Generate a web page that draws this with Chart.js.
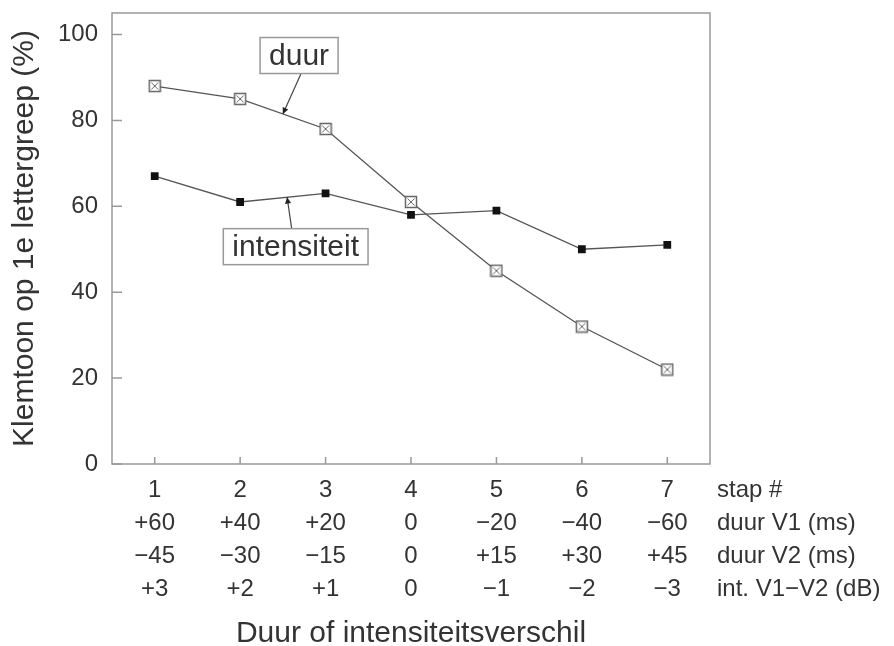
<!DOCTYPE html>
<html>
<head>
<meta charset="utf-8">
<script src="https://cdn.jsdelivr.net/npm/chart.js@4"></script>
<style>
  html, body { margin: 0; padding: 0; background: #fff; }
</style>
</head>
<body>
<canvas id="myChart" width="894" height="646"></canvas>
<script>
const stap = ["1", "2", "3", "4", "5", "6", "7"];
const duurV1 = ["+60", "+40", "+20", "0", "\u221220", "\u221240", "\u221260"];
const duurV2 = ["\u221245", "\u221230", "\u221215", "0", "+15", "+30", "+45"];
const intV1V2 = ["+3", "+2", "+1", "0", "\u22121", "\u22122", "\u22123"];
const rowLabels = ["stap #", "duur V1 (ms)", "duur V2 (ms)", "int. V1\u2212V2 (dB)"];

const duur = [88, 85, 78, 61, 45, 32, 22];
const intensiteit = [67, 61, 63, 58, 59, 50, 51];
const yTicks = [0, 20, 40, 60, 80, 100];

// label boxes, in data units (index along x, percent along y)
const callouts = [
    { text: "duur", series: duur, at: 1.5, boxX: 1.69, boxY: 95.1 },
    { text: "intensiteit", series: intensiteit, at: 1.55, boxX: 1.65, boxY: 50.6 },
];

const FONT = "'Liberation Sans', Arial, Helvetica, sans-serif";
const TEXT = "#333";
const tickFont = { family: FONT, size: 24, lineHeight: 1.375 };
const rowGap = 33;

// gray box with a cross, used for "duur"
function crossBox() {
    const c = document.createElement("canvas");
    c.width = 14;
    c.height = 14;
    const g = c.getContext("2d");
    g.fillStyle = "#fff";
    g.fillRect(1, 1, 12, 12);
    g.strokeStyle = "#666";
    g.lineWidth = 1.5;
    g.strokeRect(1.5, 1.5, 11, 11);
    g.lineWidth = 1;
    g.beginPath();
    g.moveTo(3.5, 3.5); g.lineTo(10.5, 10.5);
    g.moveTo(10.5, 3.5); g.lineTo(3.5, 10.5);
    g.stroke();
    return c;
}

const frame = {
    id: "frame",
    afterDatasetsDraw(chart) {
        const { ctx, chartArea: a, scales: { x, y } } = chart;
        ctx.save();
        // box round the plot
        ctx.strokeStyle = "#999";
        ctx.lineWidth = 1.5;
        ctx.strokeRect(a.left, a.top, a.right - a.left, a.bottom - a.top);
        // inward tick marks
        ctx.beginPath();
        yTicks.forEach(v => {
            const py = y.getPixelForValue(v);
            ctx.moveTo(a.left, py);
            ctx.lineTo(a.left + 10, py);
        });
        stap.forEach((s, i) => {
            const px = x.getPixelForValue(i);
            ctx.moveTo(px, a.bottom);
            ctx.lineTo(px, a.bottom - 7);
        });
        ctx.stroke();

        // row names right of the tick labels
        ctx.fillStyle = TEXT;
        ctx.font = "24px " + FONT;
        ctx.textAlign = "left";
        ctx.textBaseline = "middle";
        rowLabels.forEach((t, i) => {
            ctx.fillText(t, a.right + 7, x.top + 9.5 + rowGap / 2 + i * rowGap);
        });

        // callouts
        ctx.font = "30px " + FONT;
        ctx.textAlign = "center";
        callouts.forEach(c => {
            const i0 = Math.floor(c.at);
            const f = c.at - i0;
            const v = c.series[i0] + (c.series[i0 + 1] - c.series[i0]) * f;
            const tx = x.getPixelForValue(i0) + (x.getPixelForValue(i0 + 1) - x.getPixelForValue(i0)) * f;
            const ty = y.getPixelForValue(v);
            const bx = x.getPixelForValue(0) + (x.getPixelForValue(1) - x.getPixelForValue(0)) * c.boxX;
            const by = y.getPixelForValue(c.boxY);
            const w = ctx.measureText(c.text).width + 18;
            const h = 36;
            const sy = ty < by ? by - h / 2 : by + h / 2;
            const sx = bx + (ty < by ? -4 : 2);
            // leader
            ctx.strokeStyle = "#444";
            ctx.lineWidth = 1.2;
            ctx.beginPath();
            ctx.moveTo(sx, sy);
            ctx.lineTo(tx, ty);
            ctx.stroke();
            const ang = Math.atan2(ty - sy, tx - sx);
            ctx.fillStyle = "#222";
            ctx.beginPath();
            ctx.moveTo(tx, ty);
            ctx.lineTo(tx - 7 * Math.cos(ang - 0.45), ty - 7 * Math.sin(ang - 0.45));
            ctx.lineTo(tx - 7 * Math.cos(ang + 0.45), ty - 7 * Math.sin(ang + 0.45));
            ctx.closePath();
            ctx.fill();
            // box
            ctx.fillStyle = "#fff";
            ctx.fillRect(bx - w / 2, by - h / 2, w, h);
            ctx.strokeStyle = "#999";
            ctx.lineWidth = 1.5;
            ctx.strokeRect(bx - w / 2, by - h / 2, w, h);
            ctx.fillStyle = TEXT;
            ctx.fillText(c.text, bx, by + 1);
        });
        ctx.restore();
    },
};

const data = {
    labels: stap.map((s, i) => [s, duurV1[i], duurV2[i], intV1V2[i]]),
    datasets: [
        {
            label: "duur",
            data: duur,
            borderColor: "#555",
            borderWidth: 1.3,
            pointStyle: crossBox(),
            pointRadius: 7,
        },
        {
            label: "intensiteit",
            data: intensiteit,
            borderColor: "#555",
            backgroundColor: "#111",
            borderWidth: 1.3,
            pointStyle: "rect",
            pointRadius: 5.5,
            pointBorderWidth: 0,
            pointBackgroundColor: "#111",
        },
    ],
};

const config = {
    type: "line",
    data: data,
    options: {
        responsive: false,
        animation: false,
        devicePixelRatio: 1,
        layout: { padding: { left: 0, right: 184, top: 13, bottom: 0 } },
        plugins: { legend: { display: false }, tooltip: { enabled: false } },
        scales: {
            x: {
                type: "category",
                offset: true,
                grid: { display: false, drawTicks: false },
                border: { display: false },
                ticks: { font: tickFont, color: TEXT, padding: 9.5, maxRotation: 0, autoSkip: false },
                title: {
                    display: true,
                    text: "Duur of intensiteitsverschil",
                    color: TEXT,
                    font: { family: FONT, size: 30, lineHeight: 1 },
                    padding: { top: 0, bottom: -3 },
                },
                afterFit: s => { s.height = 182; },
            },
            y: {
                min: 0,
                max: 105,
                grid: { display: false, drawTicks: false },
                border: { display: false },
                ticks: { font: { family: FONT, size: 24 }, color: TEXT, padding: 14 },
                afterBuildTicks: s => { s.ticks = yTicks.map(v => ({ value: v })); },
                title: {
                    display: true,
                    text: "Klemtoon op 1e lettergreep (%)",
                    color: TEXT,
                    font: { family: FONT, size: 30, lineHeight: 1 },
                    padding: { top: 10, bottom: 0 },
                },
                afterFit: s => {
                    s.width = 112;
                    s.paddingTop = 0;
                    s.paddingBottom = 0;
                },
            },
        },
    },
    plugins: [frame],
};

const myChart = new Chart(document.getElementById("myChart"), config);
</script>
</body>
</html>
